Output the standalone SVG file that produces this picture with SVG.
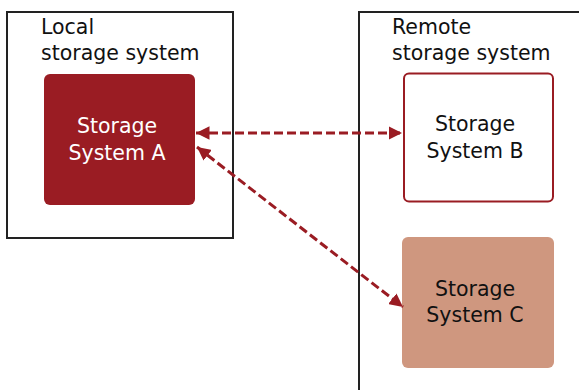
<svg xmlns="http://www.w3.org/2000/svg" width="579" height="390" viewBox="0 0 579 390">
<style>
.frame{fill:none;stroke:#222;stroke-width:2}
.t{font-family:"DejaVu Sans","Liberation Sans",sans-serif;font-size:20.5px;fill:#111}
.tw{font-family:"DejaVu Sans","Liberation Sans",sans-serif;font-size:20.5px;fill:#fff;text-anchor:middle}
.tb{font-family:"DejaVu Sans","Liberation Sans",sans-serif;font-size:20.5px;fill:#111;text-anchor:middle}
.conn{fill:none;stroke:#9a1c23;stroke-width:3;stroke-dasharray:9 4}
</style>
<defs>
<marker id="ah" viewBox="0 0 10 10" refX="10" refY="5" markerWidth="4.5" markerHeight="4.5" orient="auto-start-reverse" markerUnits="strokeWidth">
<path d="M0,0 L10,5 L0,10 z" fill="#9a1c23"/>
</marker>
</defs>
<rect width="579" height="390" fill="#fff"/>
<g id="local">
<rect class="frame" x="7" y="12" width="226" height="226"/>
<text class="t" x="41" y="34">Local</text>
<text class="t" x="41" y="60">storage system</text>
</g>
<g id="remote">
<path class="frame" d="M579,12 H359 V391"/>
<text class="t" x="392" y="34">Remote</text>
<text class="t" x="392" y="60">storage system</text>
</g>
<g id="nodeA">
<rect x="44" y="74" width="151" height="131" rx="6" fill="#9a1c23"/>
<text class="tw" x="117" y="133">Storage</text>
<text class="tw" x="117" y="160">System A</text>
</g>
<g id="nodeB">
<rect x="404" y="73.5" width="149" height="128" rx="5" fill="#fff" stroke="#9a1c23" stroke-width="2"/>
<text class="tb" x="475" y="131">Storage</text>
<text class="tb" x="475" y="158">System B</text>
</g>
<g id="nodeC">
<rect x="402" y="237" width="152" height="131" rx="6" fill="#cf977f"/>
<text class="tb" x="475" y="296">Storage</text>
<text class="tb" x="475" y="322">System C</text>
</g>
<g id="connectors">
<line class="conn" x1="196" y1="133" x2="402" y2="133" marker-start="url(#ah)" marker-end="url(#ah)"/>
<line class="conn" x1="197" y1="147" x2="403" y2="307" marker-start="url(#ah)" marker-end="url(#ah)"/>
</g>
</svg>
